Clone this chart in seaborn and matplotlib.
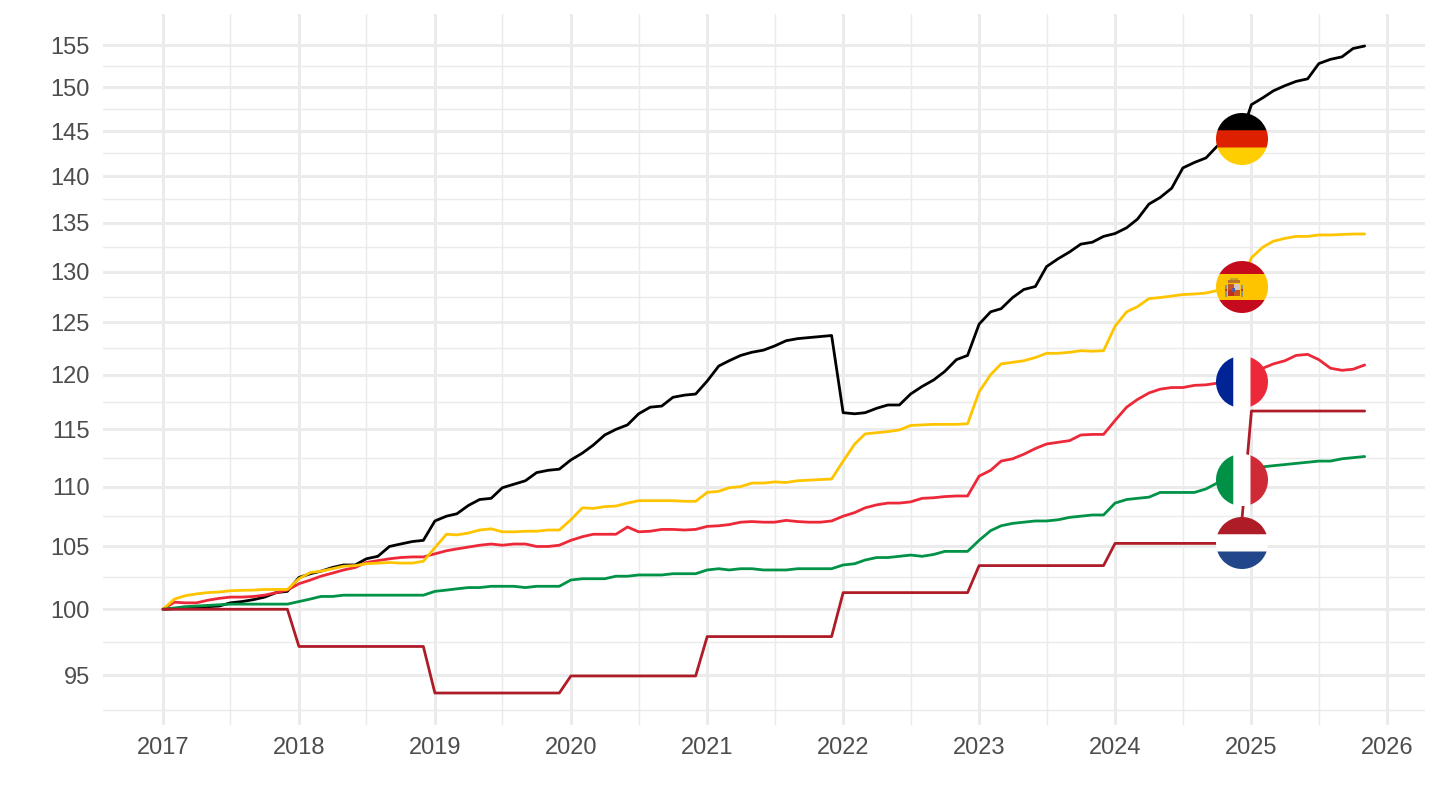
import numpy as np
import pandas as pd
import seaborn as sns
import matplotlib
matplotlib.use("Agg")
import matplotlib.pyplot as plt
import matplotlib.dates as mdates
from matplotlib.offsetbox import OffsetImage, AnnotationBbox
from matplotlib.ticker import NullFormatter

# indice mensuel, base 100 en janvier 2017
dates = pd.date_range("2017-01-01", "2025-11-01", freq="MS")

germany = [100, 100.05, 100.1, 100.15, 100.2, 100.25, 100.5, 100.6, 100.75, 100.95, 101.3, 101.4,
           102.5, 102.8, 103.0, 103.3, 103.5, 103.5, 104.0, 104.2, 105.0, 105.2, 105.4, 105.5,
           107.1, 107.5, 107.7, 108.4, 108.9, 109.0, 109.9, 110.2, 110.5, 111.2, 111.4, 111.5,
           112.3, 112.9, 113.6, 114.5, 115.0, 115.4, 116.4, 117.0, 117.1, 117.9, 118.1, 118.2,
           119.4, 120.8, 121.3, 121.8, 122.1, 122.3, 122.7, 123.2, 123.4, 123.5, 123.6, 123.7,
           116.5, 116.4, 116.5, 116.9, 117.2, 117.2, 118.2, 118.9, 119.5, 120.3, 121.4, 121.8,
           124.8, 126.0, 126.3, 127.4, 128.2, 128.5, 130.5, 131.3, 132.0, 132.8, 133.0, 133.6,
           133.9, 134.5, 135.4, 137.0, 137.7, 138.7, 140.9, 141.5, 142.0, 143.3, 143.9, 144.1,
           148.0, 148.8, 149.6, 150.2, 150.7, 151.0, 152.8, 153.3, 153.6, 154.6, 154.9]

france = [100, 100.55, 100.5, 100.5, 100.7, 100.85, 100.95, 100.95, 101.0, 101.1, 101.3, 101.5,
          102.0, 102.3, 102.6, 102.85, 103.1, 103.3, 103.7, 103.85, 104.0, 104.1, 104.15, 104.15,
          104.4, 104.65, 104.8, 104.95, 105.1, 105.2, 105.1, 105.2, 105.2, 105.0, 105.0, 105.1,
          105.5, 105.8, 106.0, 106.0, 106.0, 106.6, 106.2, 106.25, 106.4, 106.4, 106.35, 106.4,
          106.65, 106.7, 106.8, 107.0, 107.05, 107.0, 107.0, 107.15, 107.05, 107.0, 107.0, 107.1,
          107.5, 107.8, 108.2, 108.45, 108.6, 108.6, 108.7, 109.0, 109.05, 109.15, 109.2, 109.2,
          110.9, 111.4, 112.2, 112.4, 112.8, 113.3, 113.7, 113.85, 114.0, 114.5, 114.55, 114.55,
          115.8, 117.0, 117.7, 118.3, 118.65, 118.8, 118.8, 119.0, 119.05, 119.2, 119.25, 119.3,
          120.2, 120.6, 121.0, 121.3, 121.8, 121.9, 121.4, 120.6, 120.4, 120.5, 120.9]

spain = [100, 100.8, 101.05, 101.2, 101.3, 101.35, 101.45, 101.48, 101.5, 101.55, 101.55, 101.55,
         102.4, 102.9, 103.0, 103.2, 103.4, 103.45, 103.6, 103.65, 103.7, 103.65, 103.65, 103.8,
         104.9, 106.0, 105.95, 106.1, 106.35, 106.45, 106.2, 106.2, 106.25, 106.25, 106.35, 106.35,
         107.2, 108.2, 108.15, 108.3, 108.35, 108.6, 108.8, 108.8, 108.8, 108.8, 108.75, 108.75,
         109.5, 109.6, 109.9, 110.0, 110.3, 110.3, 110.4, 110.35, 110.5, 110.55, 110.6, 110.65,
         112.2, 113.7, 114.6, 114.7, 114.8, 114.95, 115.35, 115.4, 115.45, 115.45, 115.45, 115.5,
         118.4, 120.0, 121.0, 121.15, 121.3, 121.6, 122.0, 122.0, 122.1, 122.25, 122.2, 122.25,
         124.6, 126.0, 126.5, 127.3, 127.4, 127.55, 127.7, 127.75, 127.85, 128.1, 128.4, 128.5,
         131.4, 132.5, 133.1, 133.4, 133.6, 133.6, 133.75, 133.75, 133.8, 133.85, 133.85]

italy = [100, 100.1, 100.2, 100.25, 100.3, 100.35, 100.4, 100.4, 100.4, 100.4, 100.4, 100.4,
         100.6, 100.8, 101.0, 101.0, 101.1, 101.1, 101.1, 101.1, 101.1, 101.1, 101.1, 101.1,
         101.4, 101.5, 101.6, 101.7, 101.7, 101.8, 101.8, 101.8, 101.7, 101.8, 101.8, 101.8,
         102.3, 102.4, 102.4, 102.4, 102.6, 102.6, 102.7, 102.7, 102.7, 102.8, 102.8, 102.8,
         103.1, 103.2, 103.1, 103.2, 103.2, 103.1, 103.1, 103.1, 103.2, 103.2, 103.2, 103.2,
         103.5, 103.6, 103.9, 104.1, 104.1, 104.2, 104.3, 104.2, 104.35, 104.6, 104.6, 104.6,
         105.5, 106.3, 106.7, 106.9, 107.0, 107.1, 107.1, 107.2, 107.4, 107.5, 107.6, 107.6,
         108.6, 108.9, 109.0, 109.1, 109.5, 109.5, 109.5, 109.5, 109.8, 110.3, 110.5, 110.6,
         111.5, 111.7, 111.8, 111.9, 112.0, 112.1, 112.2, 112.2, 112.4, 112.5, 112.6]

netherlands = [100] * 12 + [97.15] * 12 + [93.7] * 12 + [94.95] * 12 + [97.9] * 12 \
              + [101.3] * 12 + [103.45] * 12 + [105.25] * 12 + [116.65] * 11

series_names = ["Allemagne", "France", "Espagne", "Italie", "Pays-Bas"]
series_values = [germany, france, spain, italy, netherlands]
couleurs = ["#000000", "#ED2939", "#FFC400", "#009246", "#AE1C28"]

annees = list(range(2017, 2027))
y_ticks = [95, 100, 105, 110, 115, 120, 125, 130, 135, 140, 145, 150, 155]
y_minor = [92.5, 97.5, 102.5, 107.5, 112.5, 117.5, 122.5, 127.5, 132.5, 137.5, 142.5, 147.5, 152.5]

date_drapeau = pd.Timestamp("2024-12-01")


def rgb(code):
    return np.array(matplotlib.colors.to_rgb(code))


def drapeau(bandes, sens="h", n=208):
    img = np.zeros((n, n, 4))
    bornes = np.linspace(0, n, len(bandes) + 1).astype(int)
    for i, c in enumerate(bandes):
        if sens == "h":
            img[bornes[i]:bornes[i + 1], :, :3] = rgb(c)
        else:
            img[:, bornes[i]:bornes[i + 1], :3] = rgb(c)
    img[:, :, 3] = 1
    return img


def drapeau_espagne(n=208):
    img = drapeau(["#C60B1E", "#FFC400", "#FFC400", "#C60B1E"], "h", n)
    f = n / 52
    def pave(x0, x1, y0, y1, c):
        img[int(y0 * f):int(y1 * f), int(x0 * f):int(x1 * f), :3] = rgb(c)
    # petit blason
    pave(14, 22, 17, 19, "#C9A227")
    pave(12, 24, 19, 22, "#B8742A")
    pave(12, 24, 23, 35, "#C8561E")
    pave(18, 24, 23, 29, "#D9C4C4")
    pave(12, 18, 29, 35, "#C0301E")
    pave(16, 19, 27, 31, "#5A5AA0")
    pave(9, 11, 24, 36, "#8E958A")
    pave(25, 27, 24, 36, "#8E958A")
    pave(9, 11, 28, 30, "#C23A2A")
    pave(25, 27, 28, 30, "#C23A2A")
    return img


def arrondir(img, n=52):
    # réduction par moyenne puis découpe en disque
    k = img.shape[0] // n
    petit = img.reshape(n, k, n, k, 4).mean(axis=(1, 3))
    yy, xx = np.mgrid[0:n, 0:n] + 0.5
    r = np.hypot(xx - n / 2, yy - n / 2)
    petit[:, :, 3] = np.clip(n / 2 - r + 0.5, 0, 1)
    return petit


drapeaux = {
    "Allemagne": arrondir(drapeau(["#000000", "#DD2000", "#FFCE00"])),
    "Espagne": arrondir(drapeau_espagne()),
    "France": arrondir(drapeau(["#002395", "#FFFFFF", "#ED2939"], "v")),
    "Italie": arrondir(drapeau(["#009246", "#FFFFFF", "#CE2B37"], "v")),
    "Pays-Bas": arrondir(drapeau(["#AE1C28", "#FFFFFF", "#21468B"])),
}

df = pd.DataFrame({"date": dates})
for nom, valeurs in zip(series_names, series_values):
    df[nom] = valeurs
df_long = df.melt(id_vars="date", var_name="pays", value_name="indice")

sns.set_theme(style="white")
plt.rcParams["font.family"] = ["Liberation Sans", "DejaVu Sans"]

fig = plt.figure(figsize=(14.4, 8.1), dpi=100)
ax = fig.add_axes([103 / 1440, 1 - 725 / 810, 1322 / 1440, 711 / 810])

sns.lineplot(data=df_long, x="date", y="indice", hue="pays", hue_order=series_names,
             palette=couleurs, linewidth=2.0, errorbar=None, legend=False, ax=ax)

ax.set_yscale("log")
ax.set_yticks(y_ticks, [str(v) for v in y_ticks])
ax.set_yticks(y_minor, minor=True)
ax.yaxis.set_minor_formatter(NullFormatter())
ax.set_ylim(91.4, 158.8)

ax.set_xticks([pd.Timestamp(f"{a}-01-01") for a in annees], [str(a) for a in annees])
ax.set_xticks([pd.Timestamp(f"{a}-07-01") for a in annees[:-1]], minor=True)
ax.xaxis.set_minor_formatter(NullFormatter())
debut = pd.Timestamp("2017-01-01")
ax.set_xlim(debut - pd.Timedelta(days=161), debut + pd.Timedelta(days=3388))

ax.set_xlabel("")
ax.set_ylabel("")
ax.set_axisbelow(True)
ax.grid(which="major", color="#EBEBEB", linewidth=2.1)
ax.grid(which="minor", color="#EBEBEB", linewidth=1.05)
ax.tick_params(which="both", length=0)
ax.tick_params(axis="both", which="major", labelsize=17, labelcolor="#4D4D4D")
ax.tick_params(axis="x", which="major", pad=9)
ax.tick_params(axis="y", which="major", pad=9.5)
sns.despine(ax=ax, left=True, bottom=True)

# drapeaux posés sur chaque courbe
for nom, valeurs in zip(series_names, series_values):
    y = valeurs[list(dates).index(date_drapeau)]
    im = OffsetImage(drapeaux[nom], zoom=72 / 100, interpolation="bilinear")
    ab = AnnotationBbox(im, (mdates.date2num(date_drapeau), y), xybox=(1.2, 0), boxcoords="offset points",
                        arrowprops=None, frameon=False, pad=0, box_alignment=(0.5, 0.5), zorder=10)
    ax.add_artist(ab)

fig.savefig("out.png", dpi=100, facecolor="white")
